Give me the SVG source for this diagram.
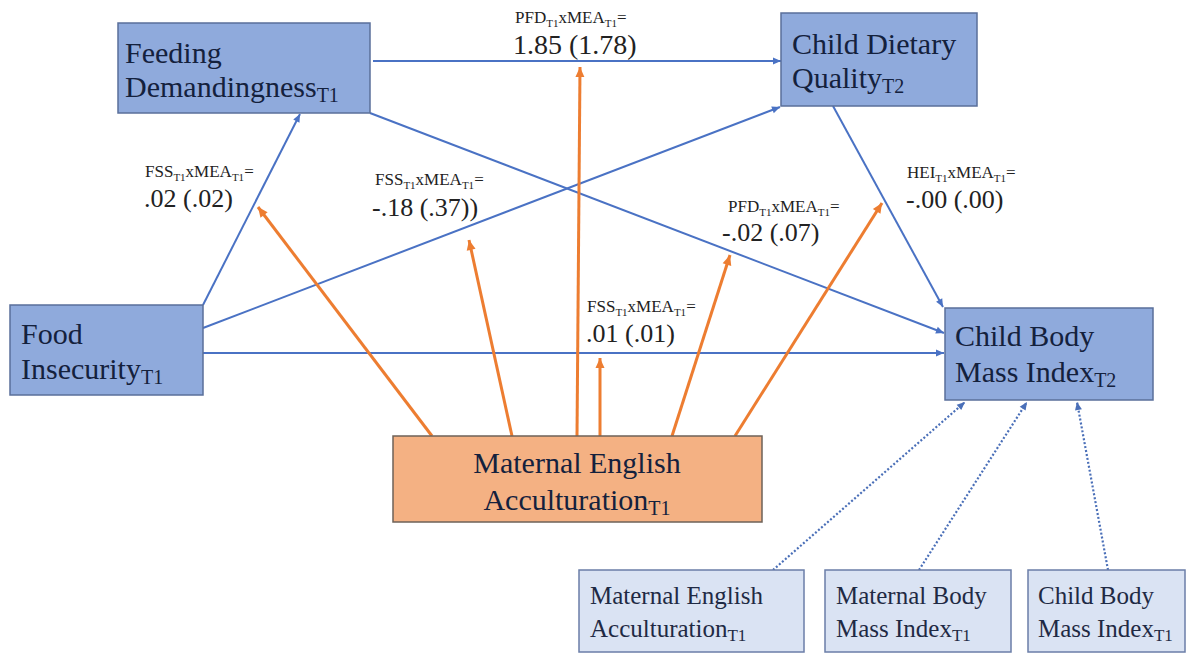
<svg xmlns="http://www.w3.org/2000/svg" width="1193" height="654" viewBox="0 0 1193 654">
<defs>
<style>
.node{fill:#8faadc;stroke:#5a6f9a;stroke-width:1.5}
.mod{fill:#f4b183;stroke:#6e6258;stroke-width:1.5}
.cov{fill:#dae3f3;stroke:#6b7ea8;stroke-width:1.5}
.nt{fill:#14213d}
.ct{fill:#1f2a44}
.lab{fill:#222}
.num{fill:#222}
.blue{stroke:#4a72c4;stroke-width:2;fill:none;marker-end:url(#ab)}
.orange{stroke:#ed7d31;stroke-width:3;fill:none;marker-end:url(#ao)}
.dot{stroke:#4a6fb8;stroke-width:2.2;stroke-dasharray:2 2;fill:none;marker-end:url(#ad)}
</style>
<marker id="ab" markerUnits="userSpaceOnUse" markerWidth="10" markerHeight="10" refX="9" refY="5" orient="auto"><path d="M1,1.5 L9,5 L1,8.5 Z" fill="#4a72c4"/></marker>
<marker id="ao" markerUnits="userSpaceOnUse" markerWidth="12" markerHeight="12" refX="11" refY="6" orient="auto"><path d="M1,1.5 L11,6 L1,10.5 Z" fill="#ed7d31"/></marker>
<marker id="ad" markerUnits="userSpaceOnUse" markerWidth="10" markerHeight="10" refX="9" refY="5" orient="auto"><path d="M1,1.5 L9,5 L1,8.5 Z" fill="#4a6fb8"/></marker>
</defs>
<rect width="1193" height="654" fill="#ffffff"/>
<g id="connectors">
<path class="blue" d="M373,61 L781,61"/>
<path class="blue" d="M203,305 L300,114"/>
<path class="blue" d="M203,328 L780,107"/>
<path class="blue" d="M370,113 L944,333"/>
<path class="blue" d="M203,353 L944,353"/>
<path class="blue" d="M833,106 L943,307"/>
<path class="orange" d="M432,436 L258,207"/>
<path class="orange" d="M512,436 L469,240"/>
<path class="orange" d="M577,436 L580,67"/>
<path class="orange" d="M600,436 L600,358"/>
<path class="orange" d="M672,436 L730,255"/>
<path class="orange" d="M735,436 L882,203"/>
<path class="dot" d="M773,570 L965,402"/>
<path class="dot" d="M919,570 L1027,402"/>
<path class="dot" d="M1108,570 L1077,402"/>
</g>
<g id="labels" font-family="Liberation Serif">
<text class="lab" font-size="17" x="145" y="177">FSS<tspan dy="4" font-size="11">T1</tspan><tspan dy="-4">xMEA</tspan><tspan dy="4" font-size="11">T1</tspan><tspan dy="-4">=</tspan></text>
<text class="num" font-size="26" x="144" y="207">.02 (.02)</text>
<text class="lab" font-size="17" x="375" y="185">FSS<tspan dy="4" font-size="11">T1</tspan><tspan dy="-4">xMEA</tspan><tspan dy="4" font-size="11">T1</tspan><tspan dy="-4">=</tspan></text>
<text class="num" font-size="26" x="372" y="216">-.18 (.37))</text>
<text class="lab" font-size="17" x="515" y="23">PFD<tspan dy="4" font-size="11">T1</tspan><tspan dy="-4">xMEA</tspan><tspan dy="4" font-size="11">T1</tspan><tspan dy="-4">=</tspan></text>
<text class="num" font-size="28" x="513" y="54">1.85 (1.78)</text>
<text class="lab" font-size="17" x="728" y="212">PFD<tspan dy="4" font-size="11">T1</tspan><tspan dy="-4">xMEA</tspan><tspan dy="4" font-size="11">T1</tspan><tspan dy="-4">=</tspan></text>
<text class="num" font-size="26" x="722" y="241">-.02 (.07)</text>
<text class="lab" font-size="17" x="907" y="178">HEI<tspan dy="4" font-size="11">T1</tspan><tspan dy="-4">xMEA</tspan><tspan dy="4" font-size="11">T1</tspan><tspan dy="-4">=</tspan></text>
<text class="num" font-size="26" x="906" y="208">-.00 (.00)</text>
<text class="lab" font-size="17" x="587" y="312">FSS<tspan dy="4" font-size="11">T1</tspan><tspan dy="-4">xMEA</tspan><tspan dy="4" font-size="11">T1</tspan><tspan dy="-4">=</tspan></text>
<text class="num" font-size="26" x="586" y="342">.01 (.01)</text>
</g>
<g id="feeding-demandingness" font-family="Liberation Serif" font-size="30">
<rect class="node" x="118" y="23" width="252" height="90"/>
<text class="nt" x="125" y="63">Feeding</text>
<text class="nt" x="125" y="97">Demandingness<tspan dy="5" font-size="20">T1</tspan></text>
</g>
<g id="child-dietary-quality" font-family="Liberation Serif" font-size="30">
<rect class="node" x="781" y="13" width="196" height="93"/>
<text class="nt" x="792" y="54">Child Dietary</text>
<text class="nt" x="792" y="88">Quality<tspan dy="5" font-size="20">T2</tspan></text>
</g>
<g id="food-insecurity" font-family="Liberation Serif" font-size="30">
<rect class="node" x="10" y="305" width="193" height="90"/>
<text class="nt" x="21" y="344">Food</text>
<text class="nt" x="21" y="379">Insecurity<tspan dy="5" font-size="20">T1</tspan></text>
</g>
<g id="child-bmi-t2" font-family="Liberation Serif" font-size="30">
<rect class="node" x="945" y="308" width="208" height="92"/>
<text class="nt" x="955" y="346">Child Body</text>
<text class="nt" x="955" y="382">Mass Index<tspan dy="5" font-size="20">T2</tspan></text>
</g>
<g id="maternal-acculturation" font-family="Liberation Serif" font-size="30">
<rect class="mod" x="393" y="436" width="369" height="86"/>
<text class="nt" x="577" y="473" text-anchor="middle">Maternal English</text>
<text class="nt" x="577" y="510" text-anchor="middle">Acculturation<tspan dy="5" font-size="20">T1</tspan></text>
</g>
<g id="cov-maternal-acculturation" font-family="Liberation Serif" font-size="25">
<rect class="cov" x="579" y="570" width="225" height="82"/>
<text class="ct" x="590" y="604">Maternal English</text>
<text class="ct" x="590" y="637">Acculturation<tspan dy="4" font-size="17">T1</tspan></text>
</g>
<g id="cov-maternal-bmi" font-family="Liberation Serif" font-size="25">
<rect class="cov" x="825" y="570" width="186" height="82"/>
<text class="ct" x="836" y="604">Maternal Body</text>
<text class="ct" x="836" y="637">Mass Index<tspan dy="4" font-size="17">T1</tspan></text>
</g>
<g id="cov-child-bmi" font-family="Liberation Serif" font-size="25">
<rect class="cov" x="1028" y="570" width="157" height="82"/>
<text class="ct" x="1038" y="604">Child Body</text>
<text class="ct" x="1038" y="637">Mass Index<tspan dy="4" font-size="17">T1</tspan></text>
</g>
</svg>
